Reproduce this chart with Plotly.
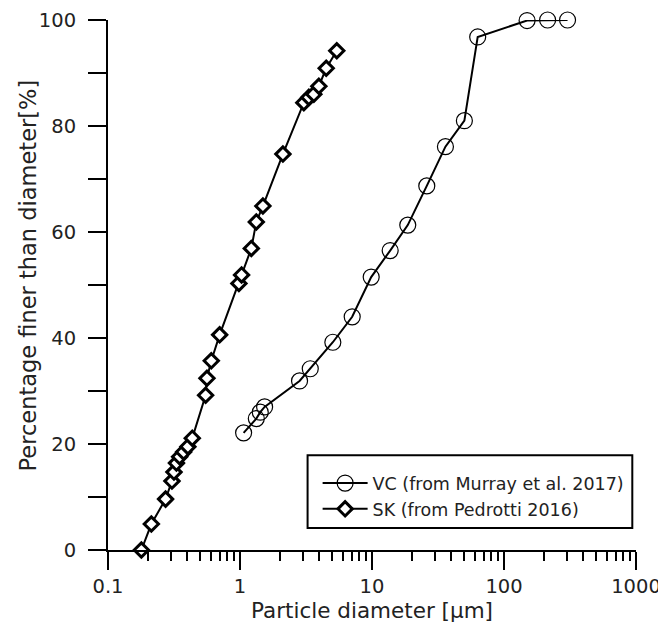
import plotly.graph_objects as go

# VC (from Murray et al. 2017)
vc_diameter = [1.065, 1.329, 1.424, 1.536, 2.826, 3.406, 5.05, 7.08, 9.86, 13.73,
               18.66, 26.0, 36.0, 50.1, 63.2, 149.6, 214, 303]
vc_percent = [22.1, 24.8, 26.0, 27.0, 31.9, 34.2, 39.2, 44.0, 51.5, 56.5,
              61.3, 68.7, 76.1, 81.0, 96.8, 99.9, 100, 100]

# SK (from Pedrotti 2016)
sk_diameter = [0.179, 0.213, 0.273, 0.305, 0.316, 0.330, 0.349, 0.374, 0.403, 0.435,
               0.549, 0.562, 0.606, 0.701, 0.981, 1.028, 1.218, 1.329, 1.491, 2.113,
               3.045, 3.323, 3.626, 3.957, 4.50, 5.41]
sk_percent = [0, 4.9, 9.6, 13.0, 14.7, 16.4, 17.6, 18.5, 19.5, 21.1,
              29.2, 32.4, 35.7, 40.6, 50.3, 51.9, 56.9, 61.9, 64.9, 74.7,
              84.4, 85.4, 86.0, 87.5, 90.9, 94.2]

x_tickvals = [0.1, 1, 10, 100, 1000]
x_ticktext = ["0.1", "1", "10", "100", "1000"]
y_tickvals = [0, 20, 40, 60, 80, 100]

FONT = "DejaVu Sans"
TXT = "#222"

fig = go.Figure()
fig.add_trace(go.Scatter(
    x=vc_diameter, y=vc_percent, mode="lines+markers",
    name="VC (from Murray et al. 2017)",
    line=dict(color="black", width=2),
    marker=dict(symbol="circle-open", size=16, color="black", line=dict(width=1.2)),
    cliponaxis=False,
))
fig.add_trace(go.Scatter(
    x=sk_diameter, y=sk_percent, mode="lines+markers",
    name="SK (from Pedrotti 2016)",
    line=dict(color="black", width=2),
    marker=dict(symbol="diamond", size=11, color="white", line=dict(width=3, color="black")),
    cliponaxis=False,
))

fig.update_layout(
    width=658, height=629,
    margin=dict(l=100, r=30, t=12, b=87),
    paper_bgcolor="white", plot_bgcolor="white",
    font=dict(family=FONT, size=19, color=TXT),
    showlegend=True,
    legend=dict(
        x=0.397, y=0.160, xanchor="left", yanchor="top",
        borderwidth=0, bgcolor="rgba(0,0,0,0)",
        font=dict(family=FONT, size=17.5, color=TXT),
        itemwidth=45,
    ),
    shapes=[dict(
        type="rect", xref="paper", yref="paper",
        x0=0.378, x1=0.993, y0=0.0415, y1=0.179,
        line=dict(color="black", width=2), layer="above",
    )],
    annotations=[dict(
        text="Percentage finer than diameter[%]", textangle=-90,
        xref="paper", yref="paper", x=-0.152, y=0.5176,
        xanchor="center", yanchor="middle", showarrow=False,
        font=dict(family=FONT, size=22.5, color=TXT),
    )],
)
fig.update_xaxes(
    type="log", range=[-1, 3], automargin=False,
    tickvals=x_tickvals, ticktext=x_ticktext,
    ticks="outside", ticklen=18, tickwidth=2, tickcolor="black",
    showline=True, linewidth=2, linecolor="black",
    showgrid=False, zeroline=False,
    minor=dict(ticks="outside", ticklen=9, tickwidth=2, tickcolor="black", dtick="D1", showgrid=False),
    title=dict(text="Particle diameter [μm]", standoff=4, font=dict(size=21.5)),
    tickfont=dict(size=19.5),
)
fig.update_yaxes(
    range=[0, 100], automargin=False,
    tickvals=y_tickvals,
    ticks="outside", ticklen=18, tickwidth=2, tickcolor="black",
    showline=True, linewidth=2, linecolor="black",
    showgrid=False, zeroline=False,
    minor=dict(ticks="outside", ticklen=18, tickwidth=2, tickcolor="black", dtick=10, showgrid=False),
    tickfont=dict(size=19.5),
    ticklabelstandoff=8,
)

fig.write_html("out.html")
